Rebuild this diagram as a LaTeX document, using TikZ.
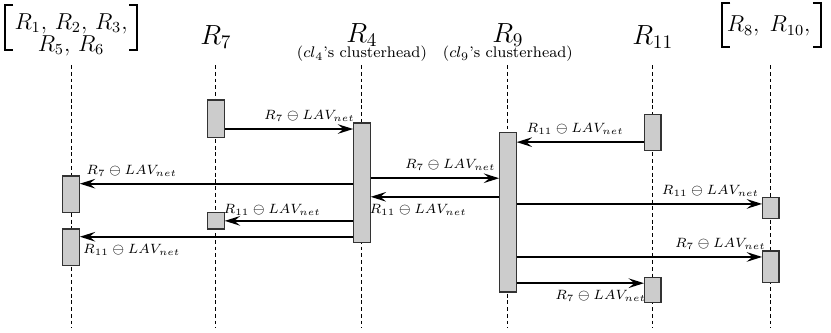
\documentclass[tikz,border=0pt]{standalone}
\usepackage{amsmath, amssymb}
\usepackage{tikz}
\usetikzlibrary{positioning, calc, arrows.meta}

\tikzset{
  lifeline/.style={dash pattern=on 2pt off 1.5pt, line width=0.5pt},
  actbox/.style={draw=black!80, fill=black!20, line width=0.6pt, minimum width=0.3cm, inner sep=0pt},
  msg/.style={line width=1pt, -{Stealth[length=8pt, width=5pt, inset=3pt]}},
  msglabel/.style={font=\scriptsize},
  hdr/.style={font=\Large, anchor=base, inner sep=0pt},
  subhdr/.style={font=\footnotesize, anchor=base, inner sep=0pt},
  grouphdr/.style={font=\large, inner sep=0pt},
  bracket/.style={line width=0.9pt}
}

\begin{document}
\begin{tikzpicture}
  \useasboundingbox (0,0) rectangle (15.2,6.09);

  % Headers
  \node[grouphdr] (h1) at (1.30,5.44) {\renewcommand{\arraystretch}{0.8}$\begin{array}{c} R_1,\, R_2,\, R_3, \\ R_5,\, R_6 \end{array}$};
  \draw[bracket] (0.24,6.00) -- (0.09,6.00) -- (0.09,5.18) -- (0.24,5.18);
  \draw[bracket] (2.36,6.00) -- (2.51,6.00) -- (2.51,5.18) -- (2.36,5.18);
  \node[hdr] (h7) at (3.95,5.27) {$R_7$};
  \node[hdr] (h4) at (6.62,5.32) {$R_4$};
  \node[subhdr] (s4) at (6.62,5.03) {($cl_4$'s clusterhead)};
  \node[hdr] (h9) at (9.29,5.32) {$R_9$};
  \node[subhdr] (s9) at (9.29,5.03) {($cl_9$'s clusterhead)};
  \node[hdr] (h11) at (11.94,5.27) {$R_{11}$};
  \node[grouphdr, anchor=base] (h8) at (14.06,5.51) {$R_8,\; R_{10},$};
  \draw[bracket] (13.36,6.04) -- (13.21,6.04) -- (13.21,5.23) -- (13.36,5.23);
  \draw[bracket] (14.87,6.04) -- (15.02,6.04) -- (15.02,5.23) -- (14.87,5.23);

  % Lifelines
  \foreach \x in {1.30, 3.95, 6.62, 9.29, 11.94, 14.10} {
    \draw[lifeline] (\x,4.90) -- (\x,0.09);
  }

  % Activation boxes
  \node[actbox, minimum height=0.68cm] (r7a) at (3.95,3.92) {};
  \node[actbox, minimum height=2.18cm] (r4a) at (6.62,2.75) {};
  \node[actbox, minimum height=0.66cm] (r11a) at (11.94,3.66) {};
  \node[actbox, minimum height=2.91cm] (r9a) at (9.29,2.205) {};
  \node[actbox, minimum height=0.66cm] (r1a) at (1.30,2.54) {};
  \node[actbox, minimum height=0.31cm] (r7b) at (3.95,2.055) {};
  \node[actbox, minimum height=0.66cm] (r1b) at (1.30,1.57) {};
  \node[actbox, minimum height=0.38cm] (r8a) at (14.10,2.28) {};
  \node[actbox, minimum height=0.57cm] (r8b) at (14.10,1.215) {};
  \node[actbox, minimum height=0.46cm] (r11b) at (11.94,0.78) {};

  % Message heights
  \coordinate (m1) at (0,3.73);
  \coordinate (m2) at (0,3.49);
  \coordinate (m3) at (0,2.83);
  \coordinate (m4) at (0,2.49);
  \coordinate (m5) at (0,2.73);
  \coordinate (m6) at (0,2.36);
  \coordinate (m7) at (0,2.05);
  \coordinate (m8) at (0,1.76);
  \coordinate (m9) at (0,1.39);
  \coordinate (m10) at (0,0.91);

  % Messages
  \draw[msg] (r7a.east |- m1) -- (r4a.west |- m1) node[msglabel, pos=0.66, above] {$R_7 \ominus LAV_{net}$};
  \draw[msg] (r11a.west |- m2) -- (r9a.east |- m2) node[msglabel, pos=0.54, above] {$R_{11} \ominus LAV_{net}$};
  \draw[msg] (r4a.east |- m3) -- (r9a.west |- m3) node[msglabel, pos=0.62, above] {$R_7 \ominus LAV_{net}$};
  \draw[msg] (r9a.west |- m4) -- (r4a.east |- m4) node[msglabel, pos=0.63, below] {$R_{11} \ominus LAV_{net}$};
  \draw[msg] (r4a.west |- m5) -- (r1a.east |- m5) node[msglabel, pos=0.81, above] {$R_7 \ominus LAV_{net}$};
  \draw[msg] (r9a.east |- m6) -- (r8a.west |- m6) node[msglabel, pos=0.79, above] {$R_{11} \ominus LAV_{net}$};
  \draw[msg] (r4a.west |- m7) -- (r7b.east |- m7) node[msglabel, pos=0.63, above=-1pt] {$R_{11} \ominus LAV_{net}$};
  \draw[msg] (r4a.west |- m8) -- (r1b.east |- m8) node[msglabel, pos=0.81, below] {$R_{11} \ominus LAV_{net}$};
  \draw[msg] (r9a.east |- m9) -- (r8b.west |- m9) node[msglabel, pos=0.83, above] {$R_7 \ominus LAV_{net}$};
  \draw[msg] (r9a.east |- m10) -- (r11b.west |- m10) node[msglabel, pos=0.66, below] {$R_7 \ominus LAV_{net}$};
\end{tikzpicture}
\end{document}
